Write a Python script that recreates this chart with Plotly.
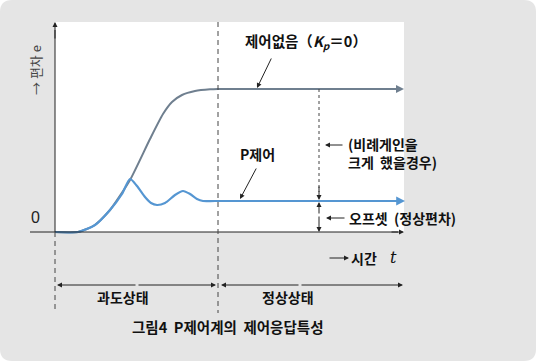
import plotly.graph_objects as go

# ---- data (time t, deviation e; origin at axis crossing, 1 unit ~ 1 px) ----
t_none = [0, 23, 40, 55, 75, 95, 108, 117, 127, 140, 155, 163, 340]
e_none = [0, 0, 7, 22, 52, 93, 118, 130, 137, 141, 142.7, 143, 143]

t_p = [0, 23, 40, 55, 67, 75, 82, 90, 96, 102, 110, 120, 128, 135, 142, 148, 160, 340]
e_p = [0, 0, 7, 22, 38, 53, 46, 35, 29, 27, 29, 37, 41, 38, 33, 31, 31, 31]

labels = {
    "none": "제어없음（<i>K<sub>p</sub></i>＝0）",
    "p": "P제어",
    "gain": "(비례게인을<br>크게  했을경우)",
    "offset": "오프셋  (정상편차)",
    "time": "시간",
    "trans": "과도상태",
    "steady": "정상상태",
    "caption": "그림4  P제어계의  제어응답특성",
    "ylabel": "→ 편차 e",
}

# pixel -> data helpers (layout only)
OX, OY = 55, 232
def X(px): return px - OX
def Y(py): return OY - py

GRAY = "#6f7f8f"
BLUE = "#5596d2"
FONT = "Noto Sans CJK KR"

fig = go.Figure()
fig.add_trace(go.Scatter(x=t_none, y=e_none, mode="lines",
                         line=dict(color=GRAY, width=2, shape="spline", smoothing=0.6),
                         hoverinfo="skip"))
fig.add_trace(go.Scatter(x=t_p, y=e_p, mode="lines",
                         line=dict(color=BLUE, width=2.2, shape="spline", smoothing=0.7),
                         hoverinfo="skip"))

shapes = []
# rounded gray panel
r = 12
x0, y0, x1, y1 = X(0), Y(0), X(536), Y(361)
path = (f"M {x0+r},{y0} L {x1-r},{y0} Q {x1},{y0} {x1},{y0-r} "
        f"L {x1},{y1+r} Q {x1},{y1} {x1-r},{y1} L {x0+r},{y1} Q {x0},{y1} {x0},{y1+r} "
        f"L {x0},{y0-r} Q {x0},{y0} {x0+r},{y0} Z")
shapes.append(dict(type="path", path=path, xref="x", yref="y", fillcolor="#e5e5e5",
                   line=dict(width=0), layer="below"))
# white plot area
shapes.append(dict(type="rect", xref="x", yref="y", x0=X(55), x1=X(404), y0=Y(22), y1=Y(232),
                   fillcolor="white", line=dict(width=0), layer="below"))
# axes lines
shapes.append(dict(type="line", xref="x", yref="y", x0=X(30), x1=X(398), y0=0, y1=0,
                   line=dict(color="#222", width=1)))
shapes.append(dict(type="line", xref="x", yref="y", x0=0, x1=0, y0=0, y1=Y(30),
                   line=dict(color="#222", width=1)))
# dashed verticals
shapes.append(dict(type="line", xref="x", yref="y", x0=0, x1=0, y0=0, y1=Y(313),
                   line=dict(color="#444", width=1, dash="5px,4px")))
shapes.append(dict(type="line", xref="x", yref="y", x0=X(218), x1=X(218), y0=Y(22), y1=Y(313),
                   line=dict(color="#444", width=1, dash="5px,4px")))
shapes.append(dict(type="line", xref="x", yref="y", x0=X(319), x1=X(319), y0=Y(89), y1=Y(192),
                   line=dict(color="#444", width=1, dash="3px,3px")))
fig.update_layout(shapes=shapes)

ann = []
def arrow(tx, ty, hx, hy, color="#222", width=1, size=1, head=2):
    ann.append(dict(x=X(hx), y=Y(hy), ax=X(tx), ay=Y(ty), xref="x", yref="y",
                    axref="x", ayref="y", text="", showarrow=True, arrowhead=head,
                    arrowsize=size, arrowwidth=width, arrowcolor=color))

def text(px, py, s, size=14, anchor="center", color="#111", angle=0, family=FONT):
    ann.append(dict(x=X(px), y=Y(py), xref="x", yref="y", text=s, showarrow=False,
                    xanchor=anchor, yanchor="middle", textangle=angle,
                    font=dict(family=family, size=size, color=color)))

# axis arrowheads
arrow(390, 232, 404, 232)
arrow(55, 40, 55, 22)
# curve arrowheads
arrow(385, 89, 404, 89, color=GRAY, width=2, size=0.8)
arrow(385, 201, 405, 201, color=BLUE, width=2.2, size=0.8)
# pointers
arrow(272, 57, 257, 88)
arrow(257, 167, 240, 199)
arrow(344, 145, 325, 145)
arrow(346, 218, 326, 218)
arrow(328, 258, 349, 258)
# offset arrows
arrow(319, 185, 319, 200)
arrow(319, 215, 319, 202)
arrow(319, 215, 319, 232)
# bottom spans
arrow(137, 285, 57, 285)
arrow(137, 285, 216, 285)
arrow(300, 285, 221, 285)
arrow(300, 285, 403, 285)

# texts
text(243, 41, "<b>" + labels["none"] + "</b>", anchor="left", size=14.5)
text(238, 154, "<b>" + labels["p"] + "</b>", anchor="left")
ann.append(dict(x=X(346), y=Y(153), xref="x", yref="y", text="<b>" + labels["gain"] + "</b>",
                showarrow=False, xanchor="left", yanchor="middle", align="left",
                font=dict(family=FONT, size=14, color="#111")))
text(347, 218, "<b>" + labels["offset"] + "</b>", anchor="left")
text(349, 258, "<b>" + labels["time"] + "</b>", anchor="left")
text(393, 257, "<i>t</i>", size=16, anchor="center", family="DejaVu Serif")
text(123, 297, "<b>" + labels["trans"] + "</b>")
text(288, 297, "<b>" + labels["steady"] + "</b>")
text(227, 326, "<b>" + labels["caption"] + "</b>", size=14.5)
text(35, 217, "0", size=16, family="Liberation Sans", color="#222")
text(35, 70, labels["ylabel"], size=13, angle=-90, color="#444")

fig.update_layout(
    annotations=ann,
    width=536, height=361,
    margin=dict(l=0, r=0, t=0, b=0),
    paper_bgcolor="white", plot_bgcolor="rgba(0,0,0,0)",
    showlegend=False,
    xaxis=dict(range=[X(0), X(536)], visible=False, fixedrange=True),
    yaxis=dict(range=[Y(361), Y(0)], visible=False, fixedrange=True),
)
fig.write_html("out.html", config={"displayModeBar": False, "staticPlot": True},
               post_script="document.body.style.margin='0';document.body.style.overflow='hidden';")
